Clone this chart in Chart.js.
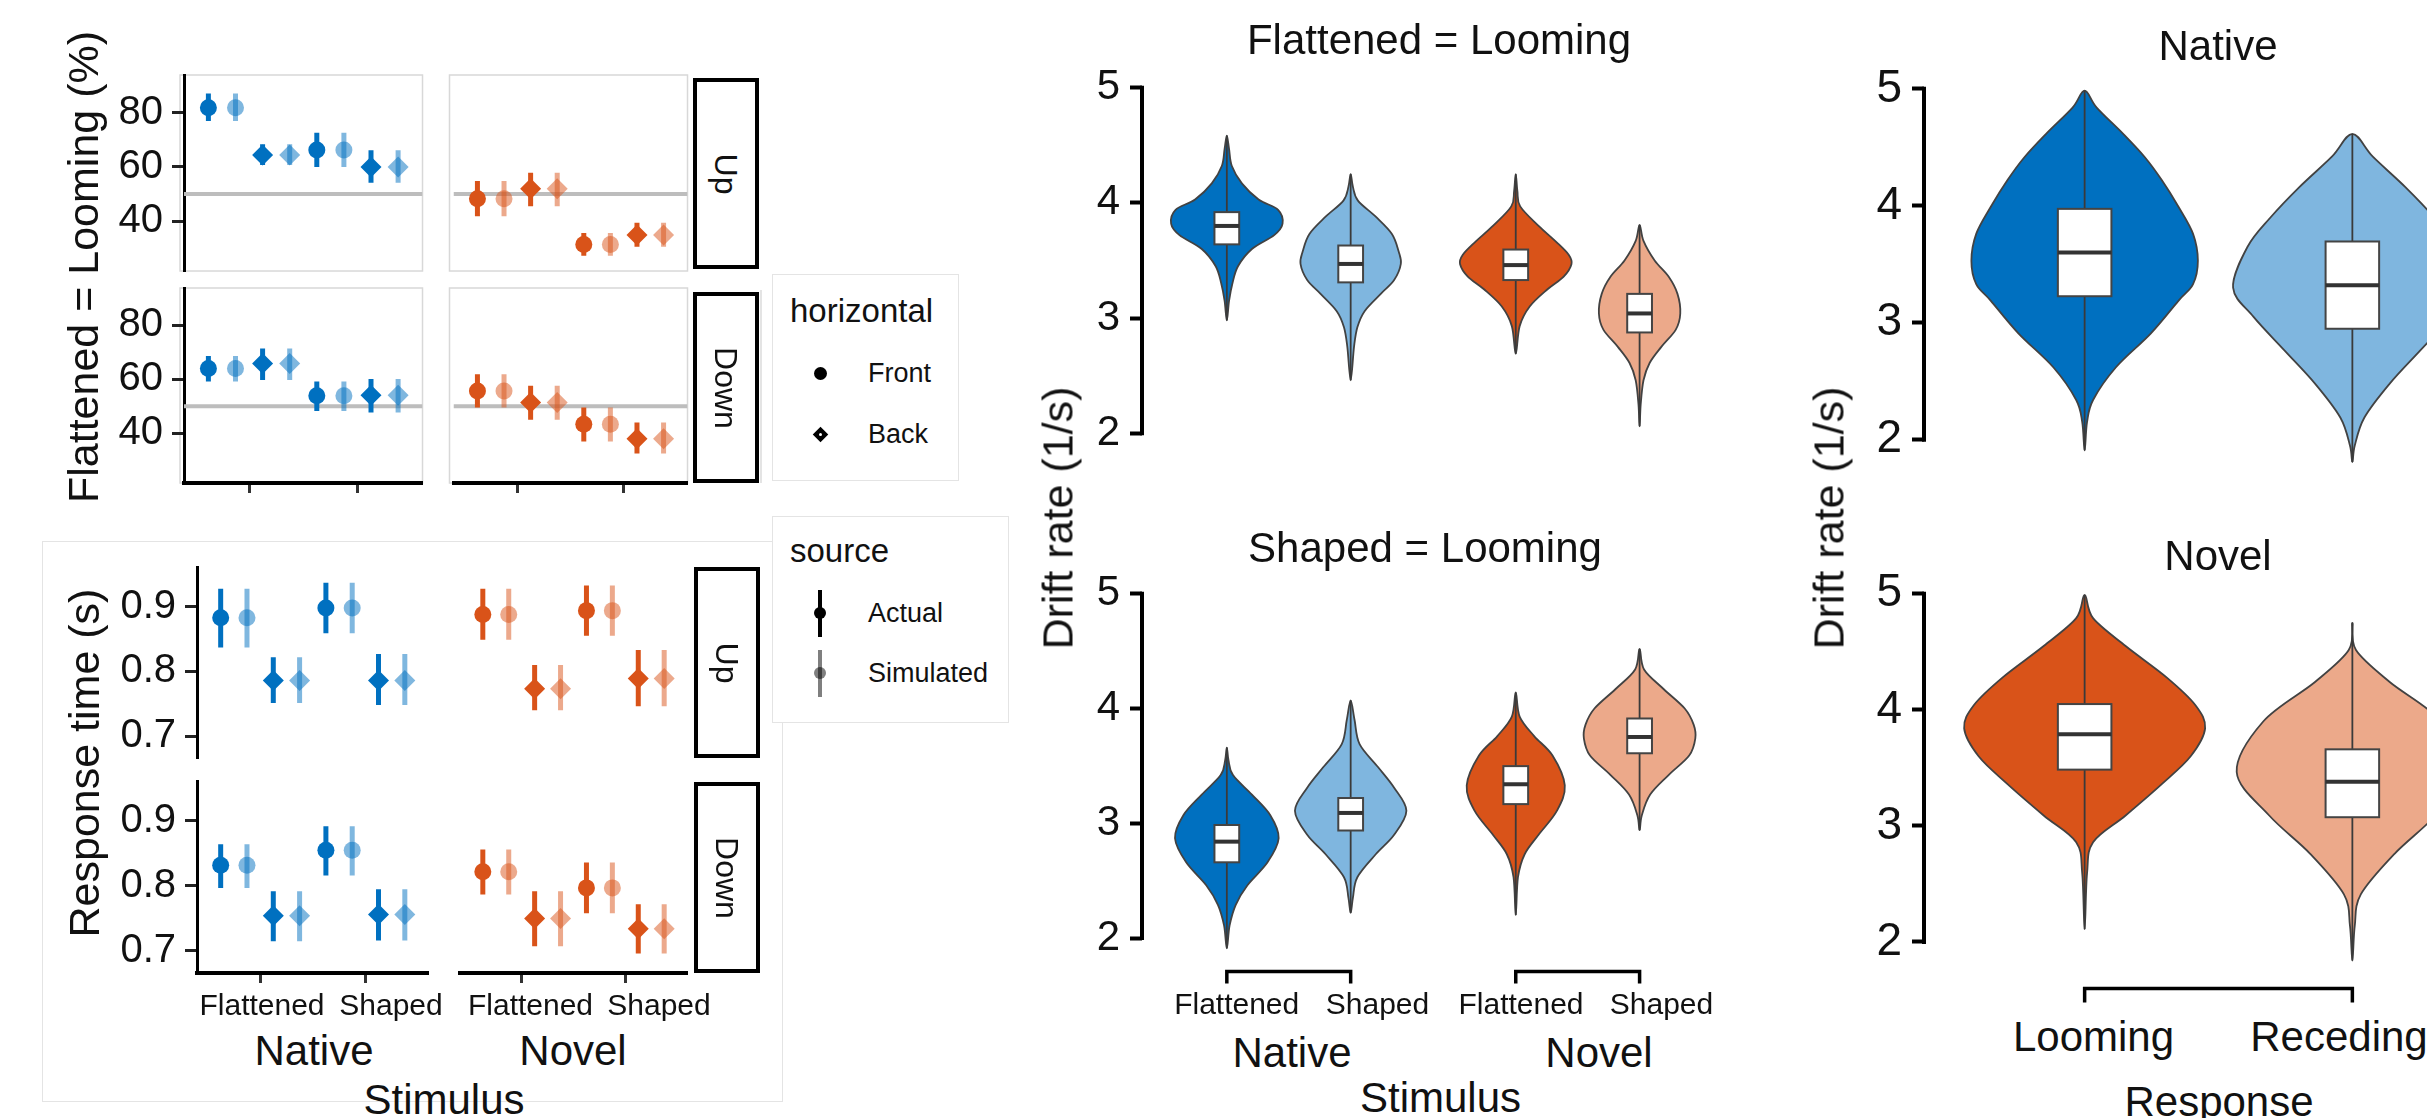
<!DOCTYPE html>
<html lang="en">
<head>
<meta charset="UTF-8">
<title>Looming responses and drift rates</title>
<script src="https://cdn.jsdelivr.net/npm/chart.js"></script>
<style>
  html, body { margin: 0; padding: 0; background: #fff; overflow: hidden; }
  body { width: 2427px; height: 1118px; position: relative; font-family: 'Liberation Sans', Arial, Helvetica, sans-serif; color: #111; }
  canvas { position: absolute; }
  .txt { position: absolute; white-space: nowrap; line-height: 1; transform: translate(-50%, -50%); }
  .ltxt { position: absolute; white-space: nowrap; line-height: 1; }
  .strip { position: absolute; box-sizing: border-box; border: 4px solid #000; background: #fff; }
  .frame { position: absolute; box-sizing: border-box; border: 1.5px solid #e4e4e4; background: #fff; }
  .line { position: absolute; background: #e4e4e4; }
</style>
</head>
<body>
<script>
    // ---------- data ----------
    var stimuli = ['Flattened', 'Shaped']
    var horizontals = ['Front', 'Back']
    var groups = ['Native', 'Novel']
    var responses = ['Looming', 'Receding']

    // [mean, low, high] in order Flattened-Front, Flattened-Back, Shaped-Front, Shaped-Back
    var pctNativeUpActual = [[81.8, 76.9, 87.0], [64.4, 60.7, 68.3], [66.2, 59.9, 72.6], [59.9, 54.1, 66.1]]
    var pctNativeUpSim = [[81.8, 76.9, 87.0], [64.4, 60.7, 68.3], [66.2, 59.9, 72.6], [59.9, 54.1, 66.1]]
    var pctNovelUpActual = [[48.2, 41.8, 54.8], [51.9, 45.5, 57.8], [31.4, 27.2, 35.6], [34.9, 30.5, 39.4]]
    var pctNovelUpSim = [[48.2, 41.8, 54.8], [51.9, 45.5, 57.8], [31.4, 27.2, 35.6], [34.9, 30.5, 39.4]]
    var pctNativeDownActual = [[64.0, 59.2, 68.7], [65.9, 59.8, 71.4], [53.9, 48.3, 59.2], [54.1, 47.7, 60.1]]
    var pctNativeDownSim = [[64.0, 59.2, 68.7], [65.9, 59.8, 71.4], [53.9, 48.3, 59.2], [54.1, 47.7, 60.1]]
    var pctNovelDownActual = [[55.7, 49.6, 61.9], [51.4, 45.0, 57.6], [43.4, 37.0, 49.6], [38.0, 32.5, 44.0]]
    var pctNovelDownSim = [[55.7, 49.6, 61.9], [51.4, 45.0, 57.6], [43.4, 37.0, 49.6], [38.0, 32.5, 44.0]]
    var chanceLevel = 50

    var rtNativeUpActual = [[0.883, 0.837, 0.928], [0.786, 0.751, 0.822], [0.898, 0.859, 0.937], [0.786, 0.748, 0.827]]
    var rtNativeUpSim = [[0.883, 0.837, 0.928], [0.786, 0.751, 0.822], [0.898, 0.859, 0.937], [0.786, 0.748, 0.827]]
    var rtNovelUpActual = [[0.888, 0.849, 0.928], [0.773, 0.740, 0.810], [0.894, 0.855, 0.933], [0.789, 0.746, 0.833]]
    var rtNovelUpSim = [[0.888, 0.849, 0.928], [0.773, 0.740, 0.810], [0.894, 0.855, 0.933], [0.789, 0.746, 0.833]]
    var rtNativeDownActual = [[0.832, 0.797, 0.864], [0.754, 0.715, 0.792], [0.855, 0.816, 0.892], [0.756, 0.716, 0.795]]
    var rtNativeDownSim = [[0.832, 0.797, 0.864], [0.754, 0.715, 0.792], [0.855, 0.816, 0.892], [0.756, 0.716, 0.795]]
    var rtNovelDownActual = [[0.822, 0.787, 0.856], [0.750, 0.707, 0.792], [0.797, 0.758, 0.836], [0.734, 0.696, 0.772]]
    var rtNovelDownSim = [[0.822, 0.787, 0.856], [0.750, 0.707, 0.792], [0.797, 0.758, 0.836], [0.734, 0.696, 0.772]]

    // drift-rate posteriors: density profile [value, relative density] and box [low, q1, median, q3, high]
    var flatLoomNativeFlattenedDensity = [[4.585, 0], [4.47, 0.04], [4.32, 0.09], [4.17, 0.27], [4.03, 0.57], [3.94, 0.92], [3.82, 1.0], [3.72, 0.85], [3.6, 0.45], [3.45, 0.2], [3.3, 0.1], [3.15, 0.04], [2.98, 0]]
    var flatLoomNativeFlattenedBox = [2.98, 3.64, 3.80, 3.92, 4.585]
    var flatLoomNativeShapedDensity = [[4.25, 0], [4.14, 0.04], [4.02, 0.13], [3.88, 0.45], [3.73, 0.74], [3.58, 0.86], [3.47, 0.9], [3.33, 0.78], [3.21, 0.54], [3.06, 0.25], [2.92, 0.12], [2.75, 0.06], [2.46, 0]]
    var flatLoomNativeShapedBox = [2.46, 3.31, 3.47, 3.63, 4.25]
    var flatLoomNovelFlattenedDensity = [[4.25, 0], [4.1, 0.03], [3.97, 0.08], [3.8, 0.41], [3.66, 0.73], [3.55, 0.95], [3.47, 1.0], [3.36, 0.86], [3.25, 0.57], [3.1, 0.25], [2.93, 0.07], [2.69, 0]]
    var flatLoomNovelFlattenedBox = [2.69, 3.33, 3.46, 3.595, 4.25]
    var flatLoomNovelShapedDensity = [[3.81, 0], [3.67, 0.07], [3.5, 0.27], [3.36, 0.52], [3.21, 0.68], [3.04, 0.73], [2.9, 0.65], [2.75, 0.39], [2.61, 0.18], [2.46, 0.07], [2.25, 0.02], [2.06, 0]]
    var flatLoomNovelShapedBox = [2.06, 2.875, 3.04, 3.21, 3.81]

    var shapLoomNativeFlattenedDensity = [[3.66, 0], [3.55, 0.03], [3.42, 0.11], [3.25, 0.45], [3.07, 0.78], [2.87, 0.93], [2.66, 0.73], [2.46, 0.37], [2.29, 0.16], [2.11, 0.05], [1.91, 0]]
    var shapLoomNativeFlattenedBox = [1.91, 2.66, 2.84, 2.985, 3.66]
    var shapLoomNativeShapedDensity = [[4.07, 0], [3.9, 0.07], [3.69, 0.16], [3.49, 0.49], [3.31, 0.78], [3.11, 1.0], [2.9, 0.78], [2.73, 0.45], [2.53, 0.12], [2.35, 0.04], [2.22, 0]]
    var shapLoomNativeShapedBox = [2.22, 2.937, 3.09, 3.22, 4.07]
    var shapLoomNovelFlattenedDensity = [[4.14, 0], [3.93, 0.07], [3.76, 0.33], [3.59, 0.66], [3.33, 0.88], [3.11, 0.74], [2.9, 0.41], [2.73, 0.16], [2.53, 0.04], [2.2, 0]]
    var shapLoomNovelFlattenedBox = [2.2, 3.167, 3.34, 3.498, 4.14]
    var shapLoomNovelShapedDensity = [[4.52, 0], [4.34, 0.08], [4.17, 0.43], [4.0, 0.81], [3.86, 0.97], [3.74, 1.0], [3.59, 0.89], [3.42, 0.52], [3.25, 0.19], [3.07, 0.04], [2.94, 0]]
    var shapLoomNovelShapedBox = [2.94, 3.61, 3.752, 3.913, 4.52]

    var nativeLoomingDensity = [[4.985, 0], [4.84, 0.1], [4.615, 0.32], [4.415, 0.5], [4.22, 0.64], [3.99, 0.78], [3.76, 0.9], [3.53, 0.94], [3.33, 0.9], [3.19, 0.78], [2.91, 0.55], [2.62, 0.26], [2.34, 0.07], [2.15, 0.02], [1.91, 0]]
    var nativeLoomingBox = [1.91, 3.227, 3.6, 3.974, 4.985]
    var nativeRecedingDensity = [[4.615, 0], [4.42, 0.17], [4.16, 0.44], [3.9, 0.68], [3.65, 0.87], [3.3, 0.99], [3.05, 0.82], [2.76, 0.56], [2.48, 0.31], [2.19, 0.1], [1.95, 0.02], [1.81, 0]]
    var nativeRecedingBox = [1.81, 2.949, 3.32, 3.695, 4.615]
    var novelLoomingDensity = [[4.99, 0], [4.79, 0.07], [4.55, 0.34], [4.28, 0.68], [4.04, 0.92], [3.84, 1.0], [3.6, 0.88], [3.36, 0.64], [3.09, 0.34], [2.86, 0.07], [2.59, 0.02], [2.11, 0]]
    var novelLoomingBox = [2.11, 3.485, 3.79, 4.05, 4.99]
    var novelRecedingDensity = [[4.75, 0], [4.515, 0.03], [4.24, 0.31], [3.9, 0.74], [3.465, 0.96], [3.09, 0.69], [2.76, 0.35], [2.41, 0.07], [2.14, 0.02], [1.84, 0]]
    var novelRecedingBox = [1.84, 3.075, 3.38, 3.66, 4.75]

    // ---------- styles ----------
    var font = "'Liberation Sans', Arial, Helvetica, sans-serif"
    var ink = '#111'
    var blueDark = '#0070C0', blueLight = '#7FB6DF'
    var orangeDark = '#D95319', orangeLight = '#ECA98A'
    Chart.defaults.font.family = font

    function fade(hex, a) {
        var n = parseInt(hex.slice(1), 16)
        return 'rgba(' + (n >> 16) + ',' + ((n >> 8) & 255) + ',' + (n & 255) + ',' + a + ')'
    }

    function addCanvas(area, ml, mt, mr, mb) {
        var L = Math.round(area[0]), T = Math.round(area[1]), R = Math.round(area[2]), B = Math.round(area[3])
        var c = document.createElement('canvas')
        c.width = R - L + ml + mr
        c.height = B - T + mt + mb
        c.style.left = (L - ml) + 'px'
        c.style.top = (T - mt) + 'px'
        c.style.width = c.width + 'px'
        c.style.height = c.height + 'px'
        document.body.appendChild(c)
        return c
    }

    function label(str, cx, cy, size, rot) {
        var d = document.createElement('div')
        d.className = 'txt'
        d.textContent = str
        d.style.left = cx + 'px'
        d.style.top = cy + 'px'
        d.style.fontSize = size + 'px'
        if (rot) d.style.transform = 'translate(-50%, -50%) rotate(' + rot + 'deg)'
        document.body.appendChild(d)
        return d
    }

    function leftLabel(str, x, baseline, size) {
        var d = document.createElement('div')
        d.className = 'ltxt'
        d.textContent = str
        d.style.left = x + 'px'
        d.style.top = (baseline - 0.8465 * size) + 'px'
        d.style.fontSize = size + 'px'
        document.body.appendChild(d)
    }

    function box(cls, l, t, w, h) {
        var d = document.createElement('div')
        d.className = cls
        d.style.position = 'absolute'
        d.style.left = l + 'px'
        d.style.top = t + 'px'
        d.style.width = w + 'px'
        d.style.height = h + 'px'
        document.body.appendChild(d)
        return d
    }

    // light panel border of the facetted proportion plot
    function panelFrame() {
        return {
            id: 'panelFrame',
            beforeDraw: function (chart) {
                var a = chart.chartArea, ctx = chart.ctx
                ctx.save()
                ctx.strokeStyle = '#d8d8d8'
                ctx.lineWidth = 1.5
                ctx.strokeRect(a.left - 4, a.top, a.right - a.left + 4, a.bottom - a.top)
                ctx.restore()
            }
        }
    }

    // axis line trimmed to the data range plus bracket-like x axes
    function rangeFrame(yFrom, yTo, brackets, gap, tick) {
        return {
            id: 'rangeFrame',
            afterDraw: function (chart) {
                var ctx = chart.ctx, xs = chart.scales.x, ys = chart.scales.y, a = chart.chartArea
                ctx.save()
                ctx.strokeStyle = '#000'
                ctx.lineWidth = 4
                ctx.beginPath()
                ctx.moveTo(a.left, ys.getPixelForValue(yFrom) + 2)
                ctx.lineTo(a.left, ys.getPixelForValue(yTo) - 2)
                ctx.stroke()
                ctx.lineWidth = 3.5
                ctx.lineJoin = 'miter'
                brackets.forEach(function (b) {
                    var y = a.bottom + gap
                    ctx.beginPath()
                    ctx.moveTo(xs.getPixelForValue(b[0]), y + tick)
                    ctx.lineTo(xs.getPixelForValue(b[0]), y)
                    ctx.lineTo(xs.getPixelForValue(b[1]), y)
                    ctx.lineTo(xs.getPixelForValue(b[1]), y + tick)
                    ctx.stroke()
                })
                ctx.restore()
            }
        }
    }

    function smoothLoop(ctx, p) {
        var n = p.length
        ctx.moveTo(p[0][0], p[0][1])
        for (var i = 0; i < n; i++) {
            var p0 = p[(i - 1 + n) % n], p1 = p[i], p2 = p[(i + 1) % n], p3 = p[(i + 2) % n]
            ctx.bezierCurveTo(p1[0] + (p2[0] - p0[0]) / 6, p1[1] + (p2[1] - p0[1]) / 6,
                p2[0] - (p3[0] - p1[0]) / 6, p2[1] - (p3[1] - p1[1]) / 6, p2[0], p2[1])
        }
        ctx.closePath()
    }

    function violinLayer(items) {
        return {
            id: 'violins',
            beforeDatasetsDraw: function (chart) {
                var ctx = chart.ctx, xs = chart.scales.x, ys = chart.scales.y
                items.forEach(function (v) {
                    var right = [], left = []
                    v.density.forEach(function (d) {
                        right.push([xs.getPixelForValue(v.x + d[1] * 0.45), ys.getPixelForValue(d[0])])
                        left.push([xs.getPixelForValue(v.x - d[1] * 0.45), ys.getPixelForValue(d[0])])
                    })
                    var pts = right.concat(left.slice(1, -1).reverse())
                    ctx.save()
                    ctx.beginPath()
                    smoothLoop(ctx, pts)
                    ctx.fillStyle = v.color
                    ctx.fill()
                    ctx.lineWidth = 1.8
                    ctx.strokeStyle = '#424242'
                    ctx.stroke()
                    var cx = xs.getPixelForValue(v.x)
                    ctx.beginPath()
                    ctx.moveTo(cx, ys.getPixelForValue(v.box[0]))
                    ctx.lineTo(cx, ys.getPixelForValue(v.box[4]))
                    ctx.lineWidth = 1.8
                    ctx.strokeStyle = '#3a3a3a'
                    ctx.stroke()
                    var bl = xs.getPixelForValue(v.x - 0.1), br = xs.getPixelForValue(v.x + 0.1)
                    var q1 = ys.getPixelForValue(v.box[1]), md = ys.getPixelForValue(v.box[2]), q3 = ys.getPixelForValue(v.box[3])
                    ctx.fillStyle = '#fff'
                    ctx.fillRect(bl, q3, br - bl, q1 - q3)
                    ctx.lineWidth = 2
                    ctx.strokeStyle = '#444'
                    ctx.strokeRect(bl, q3, br - bl, q1 - q3)
                    ctx.beginPath()
                    ctx.moveTo(bl, md)
                    ctx.lineTo(br, md)
                    ctx.lineWidth = 4
                    ctx.strokeStyle = '#333'
                    ctx.stroke()
                    ctx.restore()
                })
            }
        }
    }

    function baseOptions() {
        return {
            responsive: false, animation: false, devicePixelRatio: 1, events: [],
            plugins: { legend: { display: false }, tooltip: { enabled: false } }
        }
    }

    // ---------- pointrange panels (left) ----------
    function dotPanel(area, cfg) {
        var showY = !!cfg.yTicks, showX = !!cfg.xAxis
        var ml = showY ? 80 : 6, mt = 40, mr = 6, mb = 40
        var canvas = addCanvas(area, ml, mt, mr, mb)

        function xOf(k, sim) { return Math.floor(k / 2) + 1 + (k % 2 ? 0.125 : -0.375) + (sim ? 0.25 : 0) }
        function bars(rows, sim) {
            var pts = []
            rows.forEach(function (r, k) {
                pts.push({ x: xOf(k, sim), y: r[1] }, { x: xOf(k, sim), y: r[2] }, { x: xOf(k, sim), y: null })
            })
            return pts
        }
        function dots(rows, sim) { return rows.map(function (r, k) { return { x: xOf(k, sim), y: r[0] } }) }
        var styles = cfg.actual.map(function (r, k) { return horizontals[k % 2] === 'Front' ? 'circle' : 'rectRot' })
        var radii = cfg.actual.map(function (r, k) { return horizontals[k % 2] === 'Front' ? 8.5 : 10.5 })
        var simColor = fade(cfg.color, 0.5)

        var datasets = [
            { data: bars(cfg.sim, true), showLine: true, borderColor: simColor, borderWidth: 5, borderCapStyle: 'butt', pointRadius: 0, order: 4 },
            { data: dots(cfg.sim, true), pointStyle: styles, pointRadius: radii, backgroundColor: simColor, borderWidth: 0, order: 3 },
            { data: bars(cfg.actual, false), showLine: true, borderColor: cfg.color, borderWidth: 5, borderCapStyle: 'butt', pointRadius: 0, order: 2 },
            { data: dots(cfg.actual, false), pointStyle: styles, pointRadius: radii, backgroundColor: cfg.color, borderWidth: 0, order: 1 }
        ]
        if (cfg.hline != null) {
            datasets.push({ data: [{ x: 0.4, y: cfg.hline }, { x: 2.6, y: cfg.hline }], showLine: true, borderColor: '#bdbdbd', borderWidth: 4, pointRadius: 0, order: 5 })
        }

        var opts = baseOptions()
        opts.layout = { padding: { left: showY ? 0 : ml, top: mt, right: mr, bottom: showX ? 0 : mb } }
        opts.scales = {
            x: {
                type: 'linear', bounds: 'data', min: 0.4, max: 2.6, display: showX,
                afterBuildTicks: function (s) { s.ticks = stimuli.map(function (n, i) { return { value: i + 1 } }) },
                ticks: { display: false },
                grid: { drawOnChartArea: false, tickLength: 10, tickWidth: 3, tickColor: '#333' },
                border: { display: true, color: '#000', width: 4 }
            },
            y: {
                type: 'linear', bounds: 'data', min: cfg.yRange[0], max: cfg.yRange[1], display: showY,
                afterBuildTicks: function (s) { if (cfg.yTicks) s.ticks = cfg.yTicks.map(function (v) { return { value: v } }) },
                ticks: { padding: 9, color: ink, font: { size: 40 }, callback: cfg.fmt },
                grid: { drawOnChartArea: false, tickLength: 12, tickWidth: 3, tickColor: '#222' },
                border: { display: true, color: '#000', width: 3 }
            }
        }
        if (showX) opts.scales.x.afterFit = function (s) { s.height = mb }
        if (showY) opts.scales.y.afterFit = function (s) { s.width = ml }

        new Chart(canvas, {
            type: 'scatter',
            data: { datasets: datasets },
            options: opts,
            plugins: cfg.frame ? [panelFrame()] : []
        })
    }

    // ---------- violin panels ----------
    function violinPanel(area, cfg) {
        var ml = 95, mt = 40, mr = 10, mb = 40
        var canvas = addCanvas(area, ml, mt, mr, mb)
        var opts = baseOptions()
        opts.layout = { padding: { left: 0, top: mt, right: mr, bottom: mb } }
        opts.scales = {
            x: { type: 'linear', bounds: 'data', min: cfg.xRange[0], max: cfg.xRange[1], display: false },
            y: {
                type: 'linear', bounds: 'data', min: cfg.yRange[0], max: cfg.yRange[1],
                afterBuildTicks: function (s) { s.ticks = [2, 3, 4, 5].map(function (v) { return { value: v } }) },
                afterFit: function (s) { s.width = ml },
                ticks: { padding: 10, color: ink, font: { size: cfg.yFont } },
                grid: { drawOnChartArea: false, tickLength: 12, tickWidth: 4, tickColor: '#000' },
                border: { display: false }
            }
        }
        new Chart(canvas, {
            type: 'scatter',
            data: { datasets: [{ data: cfg.items.map(function (v) { return { x: v.x, y: v.box[2] } }), pointRadius: 0 }] },
            options: opts,
            plugins: [violinLayer(cfg.items), rangeFrame(2, 5, cfg.brackets || [], cfg.gap || 10, cfg.tick || 12)]
        })
    }

    // ---------- background frames ----------
    box('frame', 42, 541, 741, 561)
    box('line', 760, 290, 1.5, 193)

    // ---------- left: proportion looming ----------
    var pctRange = [21.6, 93.85], pctTicks = [40, 60, 80]
    var pctFmt = function (v) { return String(v) }
    dotPanel([184, 75, 427, 271], { actual: pctNativeUpActual, sim: pctNativeUpSim, color: blueDark, yRange: pctRange, yTicks: pctTicks, fmt: pctFmt, hline: chanceLevel, frame: true })
    dotPanel([449, 75, 692, 271], { actual: pctNovelUpActual, sim: pctNovelUpSim, color: orangeDark, yRange: pctRange, hline: chanceLevel, frame: true })
    dotPanel([184, 288, 427, 483], { actual: pctNativeDownActual, sim: pctNativeDownSim, color: blueDark, yRange: pctRange, yTicks: pctTicks, fmt: pctFmt, hline: chanceLevel, frame: true, xAxis: true })
    dotPanel([449, 288, 692, 483], { actual: pctNovelDownActual, sim: pctNovelDownSim, color: orangeDark, yRange: pctRange, hline: chanceLevel, frame: true, xAxis: true })

    // ---------- left: response time ----------
    var rtRange = [0.666, 0.9615], rtTicks = [0.7, 0.8, 0.9]
    var rtFmt = function (v) { return v.toFixed(1) }
    dotPanel([197, 567, 433, 758], { actual: rtNativeUpActual, sim: rtNativeUpSim, color: blueDark, yRange: rtRange, yTicks: rtTicks, fmt: rtFmt })
    dotPanel([455, 567, 692, 758], { actual: rtNovelUpActual, sim: rtNovelUpSim, color: orangeDark, yRange: rtRange })
    dotPanel([197, 781, 433, 973], { actual: rtNativeDownActual, sim: rtNativeDownSim, color: blueDark, yRange: rtRange, yTicks: rtTicks, fmt: rtFmt, xAxis: true })
    dotPanel([455, 781, 692, 973], { actual: rtNovelDownActual, sim: rtNovelDownSim, color: orangeDark, yRange: rtRange, xAxis: true })

    // category labels under the response-time panels
    ;[262, 391, 530.5, 659].forEach(function (cx, i) { label(stimuli[i % 2], cx, 1005, 30) })

    // strips
    var stripBoxes = [[693, 78, 'Up'], [693, 292, 'Down'], [694, 567, 'Up'], [694, 782, 'Down']]
    stripBoxes.forEach(function (s) {
        box('strip', s[0], s[1], 66, 191)
        label(s[2], s[0] + 33, s[1] + 95.5, 32, 90)
    })

    label('Flattened = Looming (%)', 83, 267, 43, -90)
    label('Response time (s)', 84, 763, 43, -90)
    label(groups[0], 314, 1051, 42)
    label(groups[1], 573, 1051, 42)
    label('Stimulus', 444, 1100, 42)

    // legends
    box('frame', 772, 274, 187, 207)
    leftLabel('horizontal', 790, 321.7, 33)
    leftLabel(horizontals[0], 868, 382.7, 27)
    leftLabel(horizontals[1], 868, 443.7, 27)
    var dot = box('', 813.5, 366.5, 13, 13)
    dot.style.background = '#000'; dot.style.borderRadius = '50%'
    var dia = box('', 814.5, 428.5, 11, 11)
    dia.style.background = '#000'; dia.style.transform = 'rotate(45deg)'
    var diaC = box('', 818.5, 432.5, 3, 3)
    diaC.style.background = '#fff'; diaC.style.borderRadius = '50%'

    box('frame', 772, 516, 237, 207)
    leftLabel('source', 790, 561.7, 33)
    leftLabel('Actual', 868, 622.7, 27)
    leftLabel('Simulated', 868, 682.7, 27)
    ;[[590, 613, '#000'], [650, 673, 'rgba(0,0,0,0.5)']].forEach(function (g) {
        var ln = box('', 818, g[0], 4, 47)
        ln.style.background = g[2]
        var pt = box('', 814, g[1] - 6, 12, 12)
        pt.style.background = g[2]; pt.style.borderRadius = '50%'
    })

    // ---------- middle: drift rate by stimulus ----------
    var midX = [1, 2, 3.333, 4.333]
    violinPanel([1142, 81.5, 1716, 462], {
        xRange: [0.315, 4.95], yRange: [1.75, 5.05], yFont: 42,
        items: [
            { x: midX[0], density: flatLoomNativeFlattenedDensity, box: flatLoomNativeFlattenedBox, color: blueDark },
            { x: midX[1], density: flatLoomNativeShapedDensity, box: flatLoomNativeShapedBox, color: blueLight },
            { x: midX[2], density: flatLoomNovelFlattenedDensity, box: flatLoomNovelFlattenedBox, color: orangeDark },
            { x: midX[3], density: flatLoomNovelShapedDensity, box: flatLoomNovelShapedBox, color: orangeLight }
        ]
    })
    violinPanel([1142, 588, 1716, 961], {
        xRange: [0.315, 4.95], yRange: [1.8, 5.05], yFont: 42,
        brackets: [[midX[0], midX[1]], [midX[2], midX[3]]], gap: 10.5, tick: 12,
        items: [
            { x: midX[0], density: shapLoomNativeFlattenedDensity, box: shapLoomNativeFlattenedBox, color: blueDark },
            { x: midX[1], density: shapLoomNativeShapedDensity, box: shapLoomNativeShapedBox, color: blueLight },
            { x: midX[2], density: shapLoomNovelFlattenedDensity, box: shapLoomNovelFlattenedBox, color: orangeDark },
            { x: midX[3], density: shapLoomNovelShapedDensity, box: shapLoomNovelShapedBox, color: orangeLight }
        ]
    })
    ;[1236.7, 1377.5, 1521, 1661.5].forEach(function (cx, i) { label(stimuli[i % 2], cx, 1004, 30) })
    label('Flattened = Looming', 1439, 40, 42)
    label('Shaped = Looming', 1425, 548, 42)
    label('Drift rate (1/s)', 1058, 518, 43, -90)
    label(groups[0], 1292, 1052.5, 42)
    label(groups[1], 1599, 1052.5, 42)
    label('Stimulus', 1440.5, 1097.5, 42)

    // ---------- right: drift rate by response ----------
    violinPanel([1924, 82.5, 2513, 468.5], {
        xRange: [0.4, 2.6], yRange: [1.75, 5.05], yFont: 46,
        items: [
            { x: 1, density: nativeLoomingDensity, box: nativeLoomingBox, color: blueDark },
            { x: 2, density: nativeRecedingDensity, box: nativeRecedingBox, color: blueLight }
        ]
    })
    violinPanel([1924, 587.6, 2513, 971.3], {
        xRange: [0.4, 2.6], yRange: [1.75, 5.05], yFont: 46,
        brackets: [[1, 2]], gap: 17.5, tick: 14,
        items: [
            { x: 1, density: novelLoomingDensity, box: novelLoomingBox, color: orangeDark },
            { x: 2, density: novelRecedingDensity, box: novelRecedingBox, color: orangeLight }
        ]
    })
    label(responses[0], 2093.5, 1037, 42)
    label(responses[1], 2339, 1037, 42)
    label(groups[0], 2218, 46, 42)
    label(groups[1], 2218, 556, 42)
    label('Drift rate (1/s)', 1829, 518, 43, -90)
    label('Response', 2219, 1102, 42)
</script>
</body>
</html>
